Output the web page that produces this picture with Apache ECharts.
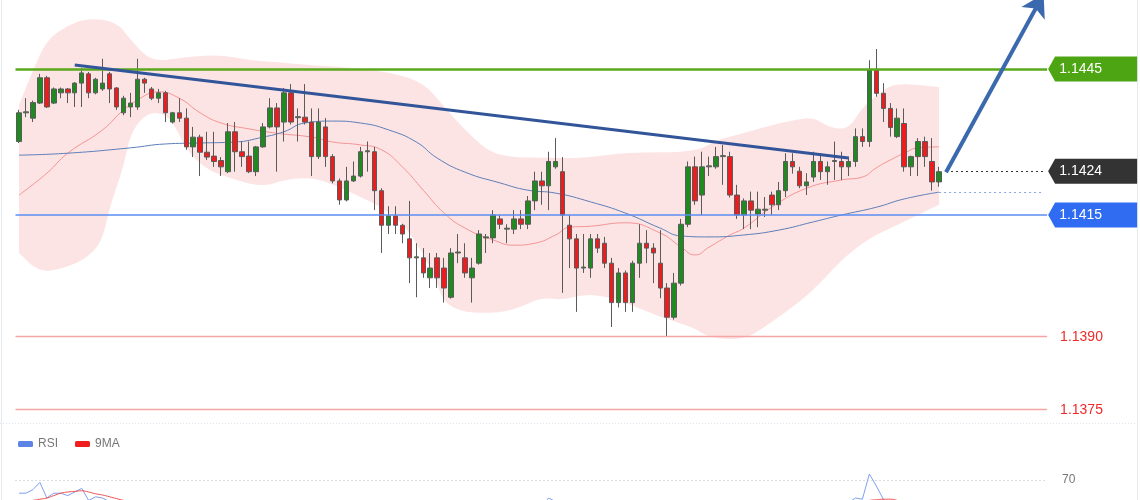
<!DOCTYPE html>
<html>
<head>
<meta charset="utf-8">
<script src="https://cdn.jsdelivr.net/npm/echarts@6/dist/echarts.min.js"></script>
<style>
html, body { margin: 0; padding: 0; background: #fff; }
#chart { width: 1140px; height: 500px; }
</style>
</head>
<body>
<div id="chart"></div>
<script>
// candles
var open = [1.14301,1.14360,1.14349,1.14380,1.14432,1.14380,1.14401,1.14409,1.14401,1.14421,
  1.14440,1.14401,1.14409,1.14440,1.14411,1.14360,1.14372,1.14372,1.14429,1.14409,
  1.14390,1.14401,1.14341,1.14360,1.14349,1.14290,1.14310,1.14279,1.14271,1.14262,
  1.14239,1.14321,1.14280,1.14271,1.14239,1.14290,1.14331,1.14370,1.14341,1.14401,
  1.14350,1.14351,1.14341,1.14270,1.14331,1.14270,1.14220,1.14181,1.14220,1.14230,
  1.14280,1.14280,1.14200,1.14129,1.14148,1.14129,1.14101,1.14062,1.14062,1.14021,
  1.14062,1.14041,1.13981,1.14072,1.14062,1.14021,1.14051,1.14103,1.14103,1.14142,
  1.14121,1.14121,1.14142,1.14131,1.14179,1.14220,1.14210,1.14249,1.14239,1.14129,
  1.14101,1.14041,1.14041,1.14101,1.14092,1.14051,1.13970,1.14031,1.13970,1.14051,
  1.14092,1.14082,1.14051,1.14000,1.13940,1.14010,1.14131,1.14249,1.14191,1.14249,
  1.14249,1.14270,1.14270,1.14191,1.14150,1.14179,1.14152,1.14160,1.14191,1.14171,
  1.14200,1.14260,1.14240,1.14210,1.14228,1.14260,1.14239,1.14260,1.14260,1.14249,
  1.14260,1.14311,1.14301,1.14448,1.14400,1.14369,1.14311,1.14338,1.14249,1.14270,
  1.14301,1.14260,1.14218];
var close = [1.14360,1.14362,1.14381,1.14432,1.14372,1.14409,1.14409,1.14401,1.14421,1.14442,
  1.14401,1.14429,1.14421,1.14409,1.14372,1.14390,1.14380,1.14429,1.14421,1.14390,
  1.14401,1.14360,1.14360,1.14349,1.14290,1.14310,1.14279,1.14269,1.14260,1.14249,
  1.14321,1.14280,1.14270,1.14239,1.14290,1.14331,1.14370,1.14331,1.14401,1.14341,
  1.14352,1.14341,1.14270,1.14341,1.14270,1.14220,1.14181,1.14220,1.14230,1.14280,
  1.14282,1.14200,1.14129,1.14148,1.14129,1.14111,1.14062,1.14064,1.14031,1.14041,
  1.14021,1.14000,1.14072,1.14074,1.14031,1.14041,1.14111,1.14105,1.14150,1.14131,
  1.14123,1.14142,1.14131,1.14179,1.14220,1.14210,1.14260,1.14260,1.14150,1.14101,
  1.14041,1.14043,1.14101,1.14082,1.14051,1.13970,1.14031,1.13970,1.14051,1.14092,
  1.14082,1.14072,1.14000,1.13940,1.14010,1.14131,1.14249,1.14179,1.14249,1.14251,
  1.14270,1.14272,1.14191,1.14150,1.14179,1.14160,1.14162,1.14162,1.14171,1.14200,
  1.14260,1.14249,1.14210,1.14218,1.14260,1.14239,1.14249,1.14262,1.14249,1.14260,
  1.14311,1.14301,1.14448,1.14400,1.14369,1.14330,1.14349,1.14249,1.14270,1.14301,
  1.14270,1.14218,1.14239];
var low = [1.14298,1.14351,1.14341,1.14378,1.14370,1.14378,1.14390,1.14380,1.14372,1.14372,
  1.14390,1.14398,1.14405,1.14380,1.14366,1.14355,1.14351,1.14366,1.14401,1.14386,
  1.14380,1.14341,1.14338,1.14341,1.14284,1.14269,1.14230,1.14263,1.14249,1.14230,
  1.14236,1.14239,1.14249,1.14236,1.14230,1.14288,1.14328,1.14239,1.14301,1.14336,
  1.14301,1.14336,1.14230,1.14265,1.14249,1.14215,1.14171,1.14178,1.14218,1.14227,
  1.14239,1.14160,1.14072,1.14111,1.14111,1.14092,1.14010,1.13981,1.14021,1.14000,
  1.14000,1.13970,1.13978,1.14051,1.14021,1.13970,1.14048,1.14072,1.14092,1.14121,
  1.14092,1.14111,1.14121,1.14121,1.14160,1.14171,1.14160,1.14245,1.13990,1.14041,
  1.13951,1.14031,1.14021,1.14072,1.14041,1.13920,1.13960,1.13951,1.13951,1.14021,
  1.14051,1.14010,1.13979,1.13900,1.13935,1.14005,1.14125,1.14171,1.14150,1.14230,
  1.14245,1.14212,1.14186,1.14142,1.14121,1.14121,1.14125,1.14146,1.14150,1.14160,
  1.14187,1.14235,1.14205,1.14191,1.14218,1.14222,1.14212,1.14222,1.14222,1.14230,
  1.14249,1.14290,1.14290,1.14393,1.14341,1.14311,1.14308,1.14239,1.14230,1.14230,
  1.14249,1.14200,1.14208];
var high = [1.14366,1.14390,1.14385,1.14440,1.14436,1.14412,1.14412,1.14411,1.14423,1.14452,
  1.14444,1.14432,1.14471,1.14444,1.14413,1.14395,1.14401,1.14471,1.14432,1.14413,
  1.14409,1.14405,1.14362,1.14390,1.14369,1.14331,1.14315,1.14321,1.14321,1.14269,
  1.14339,1.14341,1.14301,1.14301,1.14292,1.14339,1.14390,1.14380,1.14411,1.14419,
  1.14369,1.14419,1.14369,1.14369,1.14349,1.14275,1.14225,1.14249,1.14260,1.14290,
  1.14301,1.14290,1.14205,1.14168,1.14168,1.14132,1.14179,1.14092,1.14082,1.14072,
  1.14072,1.14062,1.14082,1.14111,1.14092,1.14062,1.14119,1.14111,1.14160,1.14150,
  1.14131,1.14160,1.14160,1.14189,1.14239,1.14239,1.14280,1.14308,1.14269,1.14150,
  1.14111,1.14111,1.14111,1.14111,1.14105,1.14062,1.14041,1.14036,1.14056,1.14131,
  1.14119,1.14092,1.14119,1.14010,1.14031,1.14142,1.14260,1.14270,1.14280,1.14270,
  1.14290,1.14294,1.14280,1.14212,1.14184,1.14198,1.14198,1.14187,1.14198,1.14218,
  1.14277,1.14277,1.14249,1.14236,1.14280,1.14277,1.14260,1.14301,1.14280,1.14270,
  1.14328,1.14328,1.14468,1.14491,1.14421,1.14380,1.14369,1.14369,1.14272,1.14308,
  1.14311,1.14308,1.14249];

// moving averages (sampled along the curve)
var ma20Idx = [0,4.4,7.3,11.6,14.5,16.9,18.8,20.2,22.7,26,28.8,33.1,37.4,41.7,44.6,49.4,51.8,55.1,58,61.4,64.3,67.6,70.9,74.3,76.6,79,82.4,87.2,92,94.8,96.7,99.1,101.6,103.9,108.2,113.1,117.8,121.1,122.5,125,127.4,128.8,132];
var ma20 = [1.14191,1.14236,1.14277,1.14325,1.14366,1.14386,1.14401,1.14403,1.14390,1.14360,1.14339,1.14327,1.14318,1.14310,1.14300,1.14294,1.14284,1.14249,1.14201,1.14154,1.14123,1.14099,1.14088,1.14092,1.14109,1.14125,1.14127,1.14134,1.14113,1.14084,1.14068,1.14084,1.14109,1.14123,1.14166,1.14205,1.14222,1.14228,1.14247,1.14263,1.14277,1.14288,1.14290];
var ma100Idx = [0,6.9,16.4,21.2,26,30.7,34.6,37.9,41.3,44.6,49.4,53.2,56.5,60.4,64.3,68.6,73.3,77.2,82.4,87.2,92,94.8,99.1,103.9,108.8,113.5,117.8,122.5,127.4,132];
var ma100 = [1.14273,1.14277,1.14288,1.14296,1.14298,1.14300,1.14310,1.14321,1.14339,1.14343,1.14339,1.14325,1.14300,1.14267,1.14238,1.14216,1.14201,1.14195,1.14177,1.14154,1.14123,1.14107,1.14105,1.14109,1.14119,1.14136,1.14150,1.14166,1.14183,1.14197];

// bollinger band edges
var bandUpIdx = [0,1.6,3.7,6.6,10.2,13.8,15.9,18.8,23.5,28.8,33.1,37.4,42.2,47.5,53.2,57.5,61.4,64.3,67.1,70,75.8,80.5,87.2,96.7,100.1,103.9,107.3,111,113.5,116.4,118.5,121.1,123.5,126,132.1];
var bandUp = [1.14376,1.14448,1.14510,1.14540,1.14555,1.14547,1.14510,1.14464,1.14475,1.14479,1.14468,1.14464,1.14458,1.14452,1.14444,1.14423,1.14372,1.14325,1.14284,1.14269,1.14267,1.14267,1.14279,1.14279,1.14304,1.14318,1.14331,1.14345,1.14351,1.14331,1.14325,1.14372,1.14407,1.14421,1.14413];
var bandLowIdx = [0,3.4,6.9,9.8,11.6,13.1,14.5,16.4,18.4,20.2,22.1,24.1,27,30.7,34.6,37.9,42.2,45.6,48.5,51.8,54.7,57.5,60,61.4,64.3,68.6,71.9,74.7,77.6,82.4,87.2,92,96.7,99.1,103.9,107.3,111,113.5,117.8,122.1,126.4,132.1];
var bandLow = [1.14072,1.14031,1.14043,1.14064,1.14099,1.14166,1.14249,1.14318,1.14355,1.14362,1.14345,1.14284,1.14242,1.14222,1.14208,1.14222,1.14228,1.14208,1.14187,1.14166,1.14134,1.14072,1.14010,1.13969,1.13949,1.13949,1.13961,1.13981,1.13975,1.13990,1.13971,1.13940,1.13918,1.13897,1.13893,1.13920,1.13961,1.13996,1.14058,1.14103,1.14129,1.14171];

// RSI panel
var rsi = [59,59,62,68,55,59,59,57,60,63,53,56,55,52,48,
  50,49,52,51,49,50,45,47,45,40,43,38,37,36,35,46,
  41,39,36,44,47,50,45,50,46,46,45,39,46,40,36,32,38,40,45,45,37,
  31,33,31,30,28,28,27,30,28,26,33,33,31,32,38,38,43,42,41,43,42,47,50,48,55,52,
  43,40,35,35,41,39,37,31,36,32,38,43,42,41,36,32,38,46,52,46,50,50,
  52,52,45,41,44,43,44,44,46,48,52,51,48,49,52,50,51,51,50,51,
  55,54,75,65,54,50,52,42,44,47,44,40,42];
var rsiMa = [51,52,53,54,55,57,59,60,60.5,61,60,58.5,57.5,56,54.5,
  53,52,51,50.5,50,49.5,49,48,47,46,45,44,43,42,41,40.5,
  40,40,39.5,39,40,41,42,43,44,45,45,45,44.5,44,43,42,41,40,40,40,39,
  38,37,36,35,34,33,32,31,30,29,29,29.5,30,30.5,31,32,34,35,36,38,39,40,42,43,45,46,
  46,45,44,43,42,41,40,39,38,37,36,36,37,37,37,36,36,37,39,41,42,43,
  44,45,45,45,46,46,46,46,46,46,47,47,47,47.5,48,48,49,49,50,50,
  51,51,53,53.5,54,54,53,52,51,50,49,48,47.5];
var rsiLevel = 70;

// horizontal levels and tags
var resistance = 1.1445;
var support = 1.1415;
var lastPrice = 1.1424;
var lowerLevels = [1.1390, 1.1375];
var trendStart = [8.03, 1.14458];
var trendEnd = [119.2, 1.14267];
var arrowStart = [132.9, 1.14238];
var arrowEnd = [147, 1.14604];
var lastMa100 = 1.14197;

var padCount = 15;
var categories = open.map(function (v, i) { return 'c' + i; });
for (var p = 0; p < padCount; p++) categories.push('p' + p);
var lastCat = categories.length - 1;

var candles = open.map(function (o, i) { return [o, close[i], low[i], high[i]]; });
function pairs(idx, vals) { return idx.map(function (x, i) { return [x, vals[i]]; }); }

var chart = echarts.init(document.getElementById('chart'), null, { renderer: 'canvas' });

// rounded outline: quadratic segments through the midpoints of the sampled edge
function curveThrough(pts, first) {
    var d = (first ? 'M' : 'L') + pts[0][0] + ',' + pts[0][1];
    for (var i = 1; i < pts.length - 1; i++) {
        var mx = (pts[i][0] + pts[i + 1][0]) / 2;
        var my = (pts[i][1] + pts[i + 1][1]) / 2;
        d += 'Q' + pts[i][0] + ',' + pts[i][1] + ',' + mx + ',' + my;
    }
    var last = pts[pts.length - 1];
    return d + 'L' + last[0] + ',' + last[1];
}

function renderBand(params, api) {
    var up = [], lo = [];
    for (var i = 0; i < bandUpIdx.length; i++) up.push(api.coord([bandUpIdx[i], bandUp[i]]));
    for (var j = bandLowIdx.length - 1; j >= 0; j--) lo.push(api.coord([bandLowIdx[j], bandLow[j]]));
    return {
        type: 'path',
        shape: { pathData: curveThrough(up, true) + curveThrough(lo, false) + 'Z' },
        style: { fill: '#fde4e4' }
    };
}

function tag(value, color) {
    return {
        coord: [lastCat, value],
        symbol: 'path://M0,12 L7,0 L89,0 L89,24 L7,24 Z',
        symbolSize: [89, 25],
        symbolKeepAspect: false,
        symbolOffset: [49, 0],
        itemStyle: { color: color },
        label: {
            show: true, position: 'inside', formatter: value.toFixed(4),
            color: '#fff', fontSize: 14, fontFamily: 'Liberation Sans', offset: [-12, 0]
        }
    };
}

function level(value, color, width, text) {
    var item = { yAxis: value, lineStyle: { color: color, width: width, type: 'solid' } };
    if (text) {
        item.label = { show: true, position: 'end', distance: 13, formatter: value.toFixed(4),
            color: '#ee2a2a', fontSize: 14, fontFamily: 'Liberation Sans' };
    }
    return item;
}

var option = {
    animation: false,
    backgroundColor: '#fff',
    grid: [
        { left: 15.5, width: 1031.6, top: -8.87, height: 428.3, outerBoundsMode: 'none' },
        { left: 15.5, width: 1031.6, top: 468, height: 96, outerBoundsMode: 'none' }
    ],
    xAxis: [
        { type: 'category', data: categories, gridIndex: 0, show: false, boundaryGap: true },
        { type: 'category', data: categories, gridIndex: 1, show: false, boundaryGap: true }
    ],
    yAxis: [
        { type: 'value', gridIndex: 0, min: 1.1373, max: 1.1461, show: false, splitLine: { show: false } },
        { type: 'value', gridIndex: 1, min: 0, max: 80, show: false, splitLine: { show: false } }
    ],
    legend: {
        left: 13, top: 433, itemWidth: 15, itemHeight: 6, itemGap: 17, icon: 'roundRect',
        textStyle: { color: '#777', fontSize: 12, fontFamily: 'Liberation Sans' },
        data: ['RSI', '9MA']
    },
    graphic: [
        { type: 'line', shape: { x1: 0, y1: 423.5, x2: 1140, y2: 423.5 }, style: { stroke: '#dfe5ee', lineDash: [1, 2] } },
        { type: 'rect', shape: { x: 1.5, y: -5, width: 1136, height: 520 }, style: { fill: 'none', stroke: '#e6ebf2' } }
    ],
    series: [
        {
            name: 'band', type: 'custom', xAxisIndex: 0, yAxisIndex: 0, z: 1,
            renderItem: renderBand, data: [[0, bandUp[0]]], silent: true
        },
        {
            name: 'ma20', type: 'line', xAxisIndex: 0, yAxisIndex: 0, z: 2,
            data: pairs(ma20Idx, ma20), smooth: true, symbol: 'none',
            lineStyle: { color: '#f49494', width: 1 }
        },
        {
            name: 'ma100', type: 'line', xAxisIndex: 0, yAxisIndex: 0, z: 2,
            data: pairs(ma100Idx, ma100), smooth: true, symbol: 'none',
            lineStyle: { color: '#5d7fb9', width: 1 }
        },
        {
            name: 'price', type: 'candlestick', xAxisIndex: 0, yAxisIndex: 0, z: 3,
            data: candles, barWidth: 5,
            itemStyle: {
                color: '#1f8a1f', color0: '#ee1c1c',
                borderColor: '#5a5a5a', borderColor0: '#5a5a5a', borderWidth: 1
            },
            markPoint: {
                silent: true, animation: false,
                data: [
                    tag(resistance, '#4ea514'),
                    tag(lastPrice, '#333333'),
                    tag(support, '#2f6cf2')
                ]
            }
        },
        {
            name: 'levels', type: 'line', xAxisIndex: 0, yAxisIndex: 0, z: 4,
            data: [], symbol: 'none',
            markLine: {
                silent: true, symbol: 'none', animation: false, precision: 5,
                label: { show: false },
                data: [
                    level(resistance, '#5aa91c', 2.5),
                    level(support, '#5b8ef2', 1.6),
                    level(lowerLevels[0], '#f6a5a5', 1.4, true),
                    level(lowerLevels[1], '#f6a5a5', 1.4, true),
                    [
                        { coord: trendStart, lineStyle: { color: '#32559a', width: 3, type: 'solid' } },
                        { coord: trendEnd }
                    ],
                    [
                        { coord: [arrowStart[0], lastPrice], lineStyle: { color: '#333', width: 1, type: [2, 3] } },
                        { coord: [lastCat, lastPrice] }
                    ],
                    [
                        { coord: [132.2, lastMa100], lineStyle: { color: '#8aa6e6', width: 1.2, type: [2, 3] } },
                        { coord: [lastCat, lastMa100] }
                    ],
                    [
                        { coord: arrowStart, symbol: 'none', lineStyle: { color: '#3a69ad', width: 4, type: 'solid' } },
                        { coord: arrowEnd, symbol: 'arrow', symbolSize: [20, 22] }
                    ]
                ]
            }
        },
        {
            name: 'RSI', type: 'line', xAxisIndex: 1, yAxisIndex: 1,
            data: rsi, symbol: 'none', color: '#5b84e6',
            lineStyle: { color: '#7f9ff0', width: 1 },
            markLine: {
                silent: true, symbol: 'none', animation: false,
                data: [{
                    yAxis: rsiLevel,
                    lineStyle: { color: '#b5bcc8', width: 1, type: [1, 3] },
                    label: { show: true, position: 'end', distance: 15, formatter: String(rsiLevel), color: '#777', fontSize: 12, fontFamily: 'Liberation Sans' }
                }]
            }
        },
        {
            name: '9MA', type: 'line', xAxisIndex: 1, yAxisIndex: 1,
            data: rsiMa, symbol: 'none', smooth: true, color: '#f01e1e',
            lineStyle: { color: '#f05050', width: 1 }
        }
    ]
};

chart.setOption(option);
</script>
</body>
</html>
